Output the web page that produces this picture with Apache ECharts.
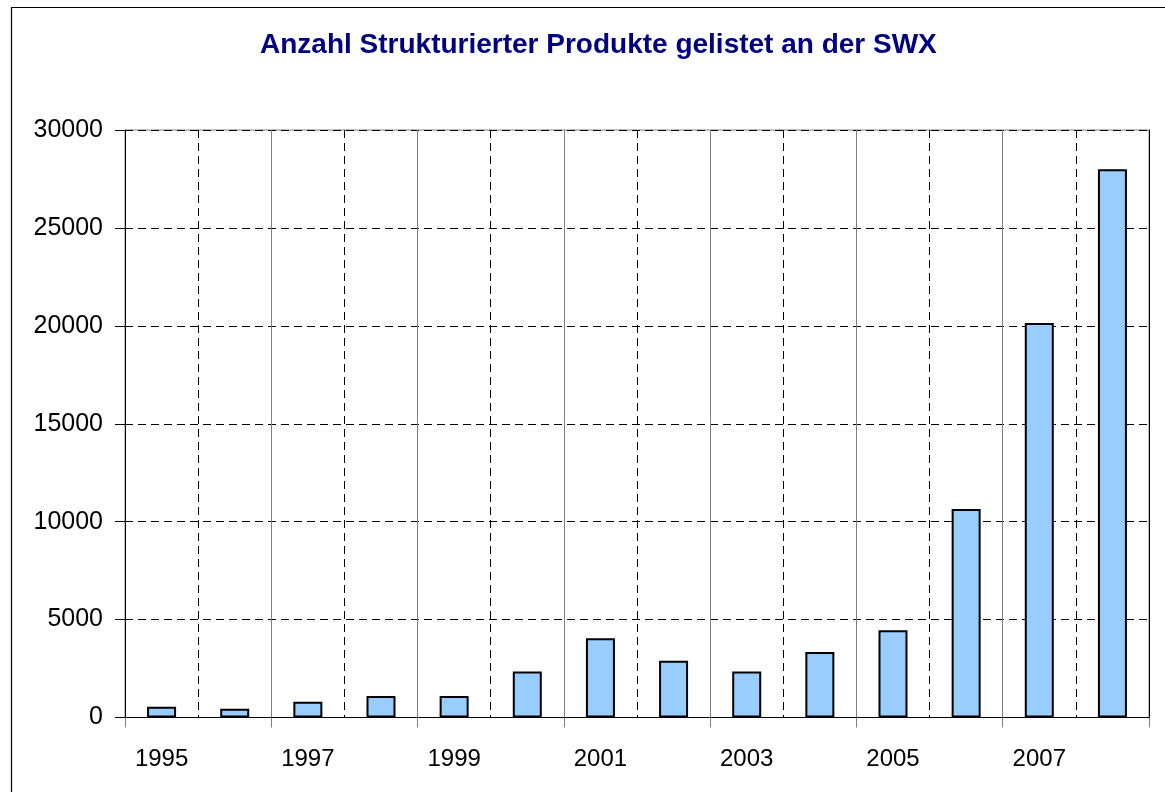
<!DOCTYPE html>
<html>
<head>
<meta charset="utf-8">
<script src="https://cdn.jsdelivr.net/npm/echarts@6/dist/echarts.min.js"></script>
<style>
html,body{margin:0;padding:0;background:#fff;}
#chart{width:1165px;height:792px;}
</style>
</head>
<body>
<div id="chart"></div>
<script>
const titleText = 'Anzahl Strukturierter Produkte gelistet an der SWX';
const years = ['1995','1996','1997','1998','1999','2000','2001','2002','2003','2004','2005','2006','2007','2008'];
const products = [550, 450, 800, 1100, 1100, 2350, 4050, 2900, 2350, 3350, 4450, 10650, 20150, 28000];
const yTicks = [0, 5000, 10000, 15000, 20000, 25000, 30000];

const font = 'Liberation Sans, Arial, sans-serif';
const chart = echarts.init(document.getElementById('chart'), null, {renderer: 'canvas'});
chart.setOption({
  animation: false,
  backgroundColor: '#fff',
  title: {
    text: titleText,
    left: 260,
    top: 31,
    padding: 0,
    textStyle: {fontFamily: font, fontSize: 28, fontWeight: 'bold', color: '#000080'}
  },
  graphic: [{
    type: 'rect',
    shape: {x: 11.5, y: 7.5, width: 1300, height: 900},
    style: {fill: 'none', stroke: '#000', lineWidth: 1.2},
    silent: true
  }],
  grid: {
    left: 125, right: 16, top: 130, bottom: 74.5,
    show: true, borderColor: '#808080', borderWidth: 1, backgroundColor: 'transparent'
  },
  xAxis: [{
    type: 'category',
    data: years,
    boundaryGap: true,
    axisLine: {show: true, lineStyle: {color: '#000', width: 1}},
    axisTick: {show: true, interval: 1, length: 10, lineStyle: {color: '#808080'}},
    axisLabel: {interval: 1, margin: 30, fontFamily: font, fontSize: 24, color: '#000'},
    splitLine: {show: true, interval: 1, lineStyle: {color: '#808080', width: 1, type: 'solid'}}
  }, {
    type: 'category',
    data: years,
    boundaryGap: true,
    position: 'bottom',
    axisLine: {show: false},
    axisTick: {show: false},
    axisLabel: {show: false},
    splitLine: {show: true, interval: function (i) { return i % 2 === 1; }, lineStyle: {color: '#000', width: 1, type: [8, 5]}}
  }],
  yAxis: [{
    type: 'value',
    min: 0, max: 30000, interval: 5000,
    axisLine: {show: true, lineStyle: {color: '#000', width: 1}},
    axisTick: {show: true, length: 10, lineStyle: {color: '#000'}},
    axisLabel: {margin: 22, fontFamily: font, fontSize: 25, color: '#000', padding: [5, 0, 0, 0],
      formatter: function (v) { return yTicks.indexOf(v) >= 0 ? String(v) : ''; }},
    splitLine: {show: true, lineStyle: {color: '#000', width: 1, type: [8, 5]}}
  }, {
    type: 'value',
    position: 'right',
    min: 0, max: 30000, interval: 5000,
    axisLine: {show: true, lineStyle: {color: '#000', width: 1}},
    axisTick: {show: false},
    axisLabel: {show: false},
    splitLine: {show: false}
  }],
  series: [{
    type: 'bar',
    data: products,
    xAxisIndex: 0,
    yAxisIndex: 0,
    barWidth: 29,
    itemStyle: {color: '#99CCFF', borderColor: '#000', borderWidth: 2}
  }]
});
</script>
</body>
</html>
